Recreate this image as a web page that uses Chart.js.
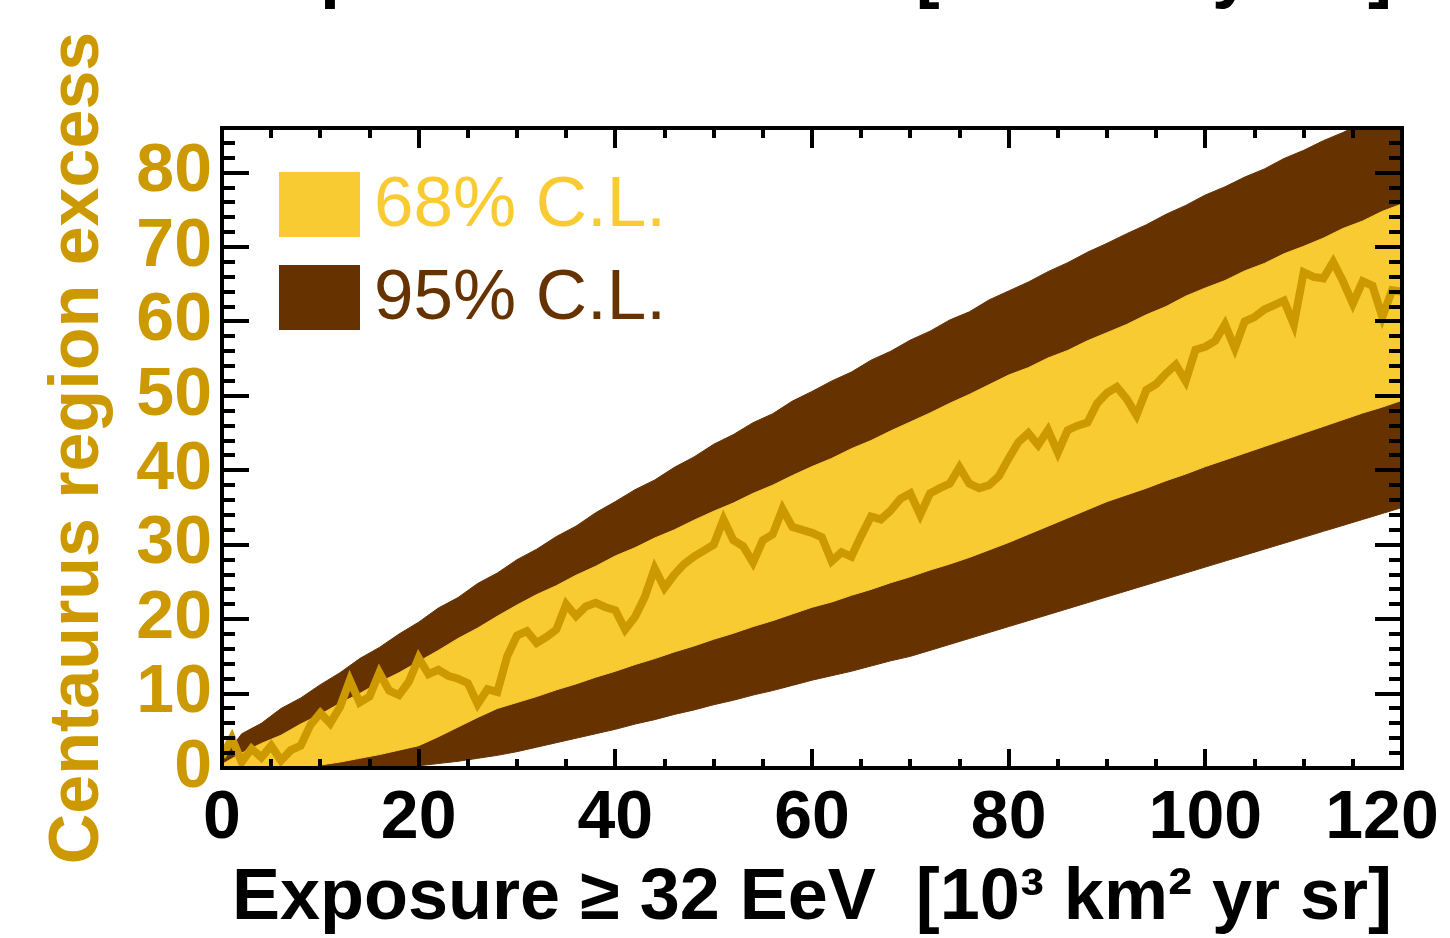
<!DOCTYPE html>
<html>
<head>
<meta charset="utf-8">
<script src="https://cdn.jsdelivr.net/npm/chart.js@4.4.1/dist/chart.umd.min.js"></script>
<style>
    html, body { margin: 0; padding: 0; background: #fff; }
    #wrap { width: 1450px; height: 938px; }
</style>
</head>
<body>
<div id="wrap"><canvas id="graficoCentaurus" width="1450" height="938"></canvas></div>
<script>
// exposure grid for the confidence bands (10^3 km^2 yr sr)
const bandExposure = [0, 2, 4, 6, 8, 10, 12, 14, 16, 18, 20, 22, 24, 26, 28, 30, 32, 34, 36, 38, 40,
    42, 44, 46, 48, 50, 52, 54, 56, 58, 60, 62, 64, 66, 68, 70, 72, 74, 76, 78, 80,
    82, 84, 86, 88, 90, 92, 94, 96, 98, 100, 102, 104, 106, 108, 110, 112, 114, 116, 118, 120];

const upper95 = [1.0, 4.6, 6.0, 8.0, 9.4, 11.2, 12.8, 14.7, 16.2, 18.0, 19.6, 21.5, 22.9, 24.8, 26.2, 28.0, 29.4, 31.1, 32.5, 34.3, 35.8,
    37.4, 38.7, 40.4, 41.8, 43.5, 44.8, 46.4, 47.6, 49.3, 50.6, 52.0, 53.2, 54.8, 56.0, 57.5, 58.7, 60.2, 61.3, 62.9, 64.1,
    65.3, 66.7, 67.9, 69.3, 70.5, 71.8, 73.0, 74.4, 75.6, 77.0, 78.1, 79.4, 80.5, 81.9, 83.0, 84.3, 85.4, 86.7, 87.8, 89.0];

const lower95 = [0, 0, 0, 0, 0, 0, 0, 0, 0, 0, 0.3, 0.6, 0.9, 1.3, 1.7, 2.2, 2.8, 3.4, 4.0, 4.6, 5.2,
    5.9, 6.5, 7.2, 7.8, 8.5, 9.1, 9.8, 10.4, 11.1, 11.8, 12.4, 13.0, 13.7, 14.4, 15.0, 15.8, 16.6, 17.4, 18.2, 19.0,
    19.8, 20.6, 21.4, 22.2, 23.0, 23.8, 24.6, 25.4, 26.2, 27.0, 27.8, 28.6, 29.4, 30.2, 31.0, 31.8, 32.6, 33.4, 34.2, 35.0];

const upper68 = [0.5, 2.0, 3.3, 4.4, 5.9, 7.2, 8.7, 10.0, 11.5, 12.8, 14.3, 15.8, 17.4, 18.8, 20.4, 21.9, 23.3, 24.5, 25.9, 27.1, 28.5,
    29.6, 30.9, 32.0, 33.3, 34.5, 35.6, 36.9, 38.0, 39.3, 40.5, 41.6, 42.9, 44.0, 45.3, 46.5, 47.7, 49.0, 50.2, 51.5, 52.8,
    53.8, 55.1, 56.1, 57.4, 58.5, 59.6, 60.9, 62.0, 63.4, 64.5, 65.5, 66.8, 67.8, 69.1, 70.1, 71.2, 72.5, 73.5, 74.8, 75.8];

const lower68 = [0, 0, 0, 0, 0, 0.4, 0.8, 1.3, 1.8, 2.4, 3.0, 4.2, 5.5, 6.8, 8.0, 8.8, 9.6, 10.5, 11.3, 12.2, 13.0,
    13.9, 14.7, 15.6, 16.4, 17.3, 18.1, 19.0, 19.8, 20.7, 21.6, 22.3, 23.2, 24.0, 24.9, 25.7, 26.6, 27.4, 28.3, 29.3, 30.3,
    31.4, 32.5, 33.6, 34.7, 35.8, 36.7, 37.6, 38.6, 39.5, 40.5, 41.4, 42.3, 43.2, 44.1, 45.0, 45.9, 46.8, 47.7, 48.5, 49.4];

// measured excess, finer grid
const lineExposure = [0, 1, 2, 3, 4, 5, 6, 7, 8, 9, 10, 11, 12, 13, 14, 15, 16, 17, 18, 19, 20,
    21, 22, 23, 24, 25, 26, 27, 28, 29, 30, 31, 32, 33, 34, 35, 36, 37, 38, 39, 40,
    41, 42, 43, 44, 45, 46, 47, 48, 49, 50, 51, 52, 53, 54, 55, 56, 57, 58, 59, 60,
    61, 62, 63, 64, 65, 66, 67, 68, 69, 70, 71, 72, 73, 74, 75, 76, 77, 78, 79, 80,
    81, 82, 83, 84, 85, 86, 87, 88, 89, 90, 91, 92, 93, 94, 95, 96, 97, 98, 99, 100,
    101, 102, 103, 104, 105, 106, 107, 108, 109, 110, 111, 112, 113, 114, 115, 116, 117, 118, 119, 120];

const excess = [1.5, 4.0, 0.8, 2.6, 1.4, 3.0, 1.0, 2.4, 3.0, 5.8, 7.4, 6.0, 8.2, 11.8, 8.8, 9.6, 12.8, 10.4, 9.8, 11.6, 14.8,
    12.6, 13.2, 12.4, 12.0, 11.4, 8.6, 10.6, 10.2, 15.0, 17.8, 18.4, 16.8, 17.6, 18.6, 22.0, 20.4, 21.7, 22.2, 21.6, 21.2,
    18.6, 20.3, 23.0, 26.8, 24.2, 26.0, 27.4, 28.4, 29.2, 30.0, 33.4, 30.6, 29.8, 27.6, 30.6, 31.4, 34.8, 32.4, 32.0, 31.6,
    31.0, 27.8, 29.0, 28.4, 31.2, 33.8, 33.4, 34.6, 36.2, 36.9, 34.0, 36.9, 37.6, 38.2, 40.4, 38.2, 37.6, 38.0, 39.2, 41.6,
    43.8, 45.0, 43.4, 45.4, 42.4, 45.4, 46.0, 46.4, 49.0, 50.4, 51.2, 49.6, 47.4, 50.8, 51.6, 53.0, 54.2, 52.0, 56.2, 56.6,
    57.4, 59.6, 56.4, 60.0, 60.6, 61.6, 62.2, 62.8, 59.6, 66.6, 66.0, 65.8, 68.0, 65.4, 62.4, 65.4, 64.8, 60.6, 64.2, 64.0];

const xTickValues = [0, 20, 40, 60, 80, 100, 120];
const yTickValues = [0, 10, 20, 30, 40, 50, 60, 70, 80];

const BROWN = '#663300';
const YELLOW = '#F9CB33';
const GOLD = '#CC9900';
const FONT = "'Liberation Sans', Arial, sans-serif";
const X_TITLE = 'Exposure \u2265 32 EeV  [10\u00B3 km\u00B2 yr sr]';

function pontos(xs, ys) {
    return xs.map((v, i) => ({ x: v, y: ys[i] }));
}

// moldura preta com ticks para dentro, nos quatro lados
const moldura = {
    id: 'moldura',
    afterDatasetsDraw(chart) {
        const { ctx, chartArea: a, scales: { x, y } } = chart;
        ctx.save();
        ctx.strokeStyle = '#000';
        ctx.lineWidth = 4;
        ctx.beginPath();
        for (let v = 0; v <= 86; v += 2) {
            const py = Math.round(y.getPixelForValue(v));
            const len = v % 10 === 0 ? 27 : 13;
            ctx.moveTo(a.left, py); ctx.lineTo(a.left + len, py);
            ctx.moveTo(a.right, py); ctx.lineTo(a.right - len, py);
        }
        for (let v = 0; v <= 120; v += 5) {
            const px = Math.round(x.getPixelForValue(v));
            const len = v % 20 === 0 ? 19 : 9;
            ctx.moveTo(px, a.bottom); ctx.lineTo(px, a.bottom - len);
            ctx.moveTo(px, a.top); ctx.lineTo(px, a.top + len + 1);
        }
        ctx.stroke();
        ctx.strokeRect(a.left, a.top, a.right - a.left, a.bottom - a.top);
        ctx.restore();
    }
};

// puxa o último rótulo do eixo x para dentro da imagem
const ultimoRotulo = {
    id: 'ultimoRotulo',
    beforeDraw(chart) {
        const items = chart.scales.x.getLabelItems();
        const last = items[items.length - 1];
        if (last && !last._ajustado) {
            last.options.translation[0] -= 20;
            last._ajustado = true;
        }
    }
};

// legenda dentro da área do gráfico
const legenda = {
    id: 'legenda',
    afterDraw(chart) {
        const { ctx, chartArea: a } = chart;
        const itens = [
            { label: chart.data.datasets[2].label, color: YELLOW, y: a.top + 44 },
            { label: chart.data.datasets[0].label, color: BROWN, y: a.top + 137 }
        ];
        ctx.save();
        ctx.font = '71px ' + FONT;
        ctx.textBaseline = 'middle';
        itens.forEach(item => {
            ctx.fillStyle = item.color;
            ctx.fillRect(a.left + 57, item.y, 81, 65);
            ctx.fillText(item.label, a.left + 152, item.y + 34);
        });
        // título do painel de cima, cortado na borda
        ctx.fillStyle = '#000';
        ctx.font = 'bold 72px ' + FONT;
        ctx.textAlign = 'center';
        ctx.textBaseline = 'alphabetic';
        ctx.fillText(X_TITLE, (a.left + a.right) / 2, -6);
        ctx.restore();
    }
};

const ctx = document.getElementById('graficoCentaurus').getContext('2d');

new Chart(ctx, {
    type: 'line',
    data: {
        datasets: [
            {
                label: '95% C.L.',
                data: pontos(bandExposure, upper95),
                borderColor: BROWN,
                borderWidth: 1,
                backgroundColor: BROWN,
                fill: '+1',
                pointRadius: 0,
                order: 4
            },
            {
                label: 'lower95',
                data: pontos(bandExposure, lower95),
                borderColor: BROWN,
                borderWidth: 1,
                fill: false,
                pointRadius: 0,
                order: 4
            },
            {
                label: '68% C.L.',
                data: pontos(bandExposure, upper68),
                borderColor: YELLOW,
                borderWidth: 1,
                backgroundColor: YELLOW,
                fill: '+1',
                pointRadius: 0,
                order: 2
            },
            {
                label: 'lower68',
                data: pontos(bandExposure, lower68),
                borderColor: YELLOW,
                borderWidth: 1,
                fill: false,
                pointRadius: 0,
                order: 2
            },
            {
                label: 'Centaurus excess',
                data: pontos(lineExposure, excess),
                borderColor: GOLD,
                borderWidth: 8,
                fill: false,
                pointRadius: 0,
                tension: 0,
                order: 0
            }
        ]
    },
    options: {
        responsive: false,
        animation: false,
        events: [],
        layout: {
            padding: { top: 128, right: 48, bottom: 0, left: 0 }
        },
        plugins: {
            legend: { display: false },
            tooltip: { enabled: false }
        },
        scales: {
            x: {
                type: 'linear',
                min: 0,
                max: 120,
                afterFit: scale => {
                    scale.height = 170;
                    scale.paddingLeft = 0;
                    scale.paddingRight = 0;
                },
                afterBuildTicks: scale => { scale.ticks = xTickValues.map(v => ({ value: v })); },
                grid: { display: false, drawTicks: false },
                border: { display: false },
                ticks: {
                    color: '#000',
                    font: { family: FONT, size: 68, weight: 'bold' },
                    padding: 10,
                    maxRotation: 0,
                    autoSkip: false
                },
                title: {
                    display: true,
                    text: X_TITLE,
                    color: '#000',
                    font: { family: FONT, size: 72, weight: 'bold' },
                    padding: { top: 0, bottom: -4 }
                }
            },
            y: {
                min: 0,
                max: 86,
                afterFit: scale => {
                    scale.width = 222;
                    scale.paddingTop = 0;
                    scale.paddingBottom = 0;
                },
                afterBuildTicks: scale => { scale.ticks = yTickValues.map(v => ({ value: v })); },
                grid: { display: false, drawTicks: false },
                border: { display: false },
                ticks: {
                    color: GOLD,
                    font: { family: FONT, size: 68, weight: 'bold' },
                    padding: 10,
                    autoSkip: false
                },
                title: {
                    display: true,
                    text: 'Centaurus region excess',
                    color: GOLD,
                    font: { family: FONT, size: 70, weight: 'bold' },
                    padding: { top: 37, bottom: 0 }
                }
            }
        }
    },
    plugins: [ultimoRotulo, moldura, legenda]
});
</script>
</body>
</html>
